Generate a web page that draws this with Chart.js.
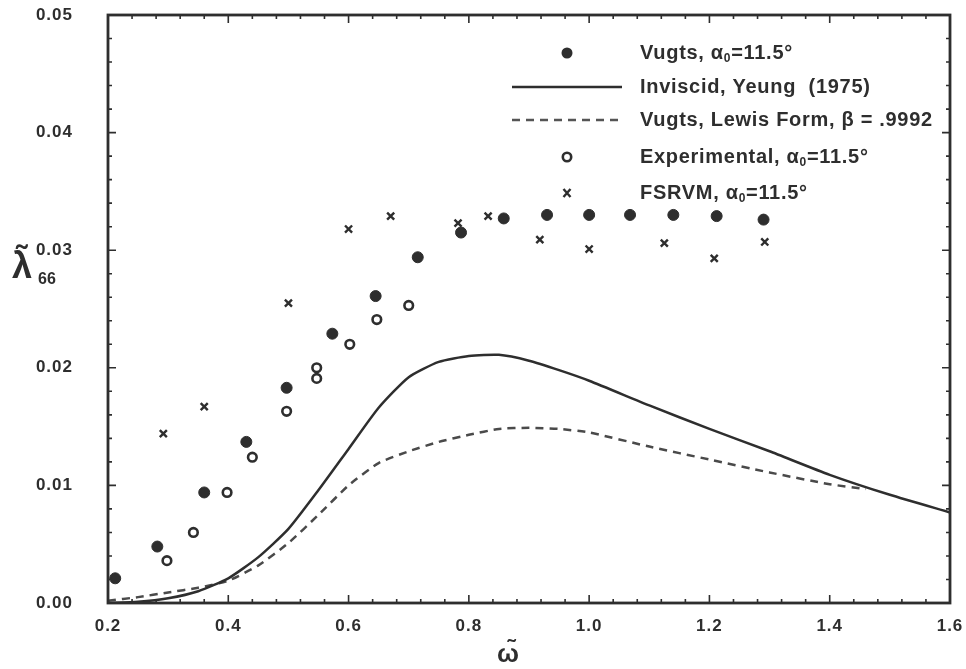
<!DOCTYPE html>
<html>
<head>
<meta charset="utf-8">
<script src="https://cdn.jsdelivr.net/npm/chart.js@4/dist/chart.umd.min.js"></script>
<style>
  html, body { margin: 0; padding: 0; background: #fff; }
  #wrap { width: 966px; height: 669px; position: relative; }
</style>
</head>
<body>
<div id="wrap"><canvas id="c" width="966" height="669"></canvas></div>
<script>
// ── Data ────────────────────────────────────────────────────────────
const omegaVugts  = [0.212, 0.282, 0.36, 0.43, 0.497, 0.573, 0.645, 0.715, 0.787, 0.858, 0.93, 1.0, 1.068, 1.14, 1.212, 1.29];
const lambdaVugts = [0.0021, 0.0048, 0.0094, 0.0137, 0.0183, 0.0229, 0.0261, 0.0294, 0.0315, 0.0327, 0.0330, 0.0330, 0.0330, 0.0330, 0.0329, 0.0326];

const omegaInv  = [0.2, 0.25, 0.3, 0.35, 0.4, 0.45, 0.5, 0.55, 0.6, 0.65, 0.7, 0.75, 0.8, 0.85, 0.9, 0.95, 1.0, 1.1, 1.2, 1.3, 1.4, 1.5, 1.6];
const lambdaInv = [0.0000, 0.0001, 0.0004, 0.0010, 0.0021, 0.0039, 0.0063, 0.0096, 0.0131, 0.0166, 0.0192, 0.0205, 0.0210, 0.0211, 0.0206, 0.0198, 0.0189, 0.0168, 0.0148, 0.0129, 0.0109, 0.0092, 0.0077];

const omegaLewis  = [0.2, 0.25, 0.3, 0.35, 0.4, 0.45, 0.5, 0.55, 0.6, 0.65, 0.7, 0.75, 0.8, 0.85, 0.9, 0.95, 1.0, 1.1, 1.2, 1.3, 1.4, 1.46];
const lambdaLewis = [0.0002, 0.0005, 0.0009, 0.0013, 0.0019, 0.0032, 0.0051, 0.0075, 0.0100, 0.0119, 0.0129, 0.0137, 0.0143, 0.0148, 0.0149, 0.0148, 0.0145, 0.0133, 0.0122, 0.0111, 0.0101, 0.0097];

const omegaExp  = [0.298, 0.342, 0.398, 0.44, 0.497, 0.547, 0.547, 0.602, 0.647, 0.70];
const lambdaExp = [0.0036, 0.0060, 0.0094, 0.0124, 0.0163, 0.0191, 0.0200, 0.0220, 0.0241, 0.0253];

const omegaFs  = [0.292, 0.36, 0.50, 0.60, 0.67, 0.782, 0.832, 0.918, 1.0, 1.125, 1.208, 1.292];
const lambdaFs = [0.0144, 0.0167, 0.0255, 0.0318, 0.0329, 0.0323, 0.0329, 0.0309, 0.0301, 0.0306, 0.0293, 0.0307];

const xTicks = [0.2, 0.4, 0.6, 0.8, 1.0, 1.2, 1.4, 1.6];
const yTicks = [0.00, 0.01, 0.02, 0.03, 0.04, 0.05];

const INK = '#2e2e2e';
const FONT = '"Liberation Sans", Arial, sans-serif';
// target plot box in the 966x669 window
const AREA = { left: 108, top: 15, right: 950, bottom: 603 };

const pts = (xs, ys) => xs.map((x, i) => ({ x, y: ys[i] }));

// the scanned lettering is spaced a little wider than Arial
const spacingPlugin = {
  id: 'spacing',
  beforeDraw(chart) { chart.ctx.letterSpacing = '1px'; }
};

// ── Frame with inward ticks on all four sides ─────────────────────
const framePlugin = {
  id: 'frame',
  afterDatasetsDraw(chart) {
    const { ctx, chartArea: a, scales: { x, y } } = chart;
    ctx.save();
    ctx.strokeStyle = INK;
    ctx.lineWidth = 1.6;
    ctx.beginPath();
    // minor ticks every 1/5 of a major step
    for (let i = 0; i <= 35; i++) {
      const px = x.getPixelForValue(0.2 + i * 0.04);
      const len = i % 5 === 0 ? 8 : 4;
      ctx.moveTo(px, a.bottom); ctx.lineTo(px, a.bottom - len);
      ctx.moveTo(px, a.top);    ctx.lineTo(px, a.top + len);
    }
    for (let i = 0; i <= 25; i++) {
      const py = y.getPixelForValue(i * 0.002);
      const len = i % 5 === 0 ? 8 : 4;
      ctx.moveTo(a.left, py);  ctx.lineTo(a.left + len, py);
      ctx.moveTo(a.right, py); ctx.lineTo(a.right - len, py);
    }
    ctx.stroke();
    ctx.lineWidth = 2.8;
    ctx.strokeRect(a.left, a.top, a.right - a.left, a.bottom - a.top);
    ctx.restore();
  }
};

// text with optional subscript pieces: [[text, isSub], ...]
function drawRich(ctx, parts, x, y, size) {
  let cx = x;
  parts.forEach(([t, sub]) => {
    ctx.font = `bold ${sub ? Math.round(size * 0.6) : size}px ${FONT}`;
    ctx.fillText(t, cx, sub ? y + size * 0.28 : y);
    cx += ctx.measureText(t).width;
  });
}

// ── Legend + axis titles ──────────────────────────────────────────
const legendPlugin = {
  id: 'customLegend',
  afterDraw(chart) {
    const { ctx } = chart;
    ctx.save();
    ctx.fillStyle = INK;
    ctx.strokeStyle = INK;
    ctx.textBaseline = 'middle';
    ctx.letterSpacing = '0.7px';
    const tx = 640, mx = 567, size = 20;

    ctx.beginPath(); ctx.arc(mx, 53, 5.5, 0, Math.PI * 2); ctx.fill();
    drawRich(ctx, [['Vugts, α'], ['0', true], ['=11.5°']], tx, 53, size);

    ctx.lineWidth = 2.4;
    ctx.beginPath(); ctx.moveTo(512, 87); ctx.lineTo(622, 87); ctx.stroke();
    drawRich(ctx, [['Inviscid, Yeung  (1975)']], tx, 87, size);

    ctx.strokeStyle = '#555';
    ctx.setLineDash([8, 6]);
    ctx.beginPath(); ctx.moveTo(512, 120); ctx.lineTo(622, 120); ctx.stroke();
    ctx.setLineDash([]);
    ctx.strokeStyle = INK;
    drawRich(ctx, [['Vugts, Lewis Form, β = .9992']], tx, 120, size);

    ctx.lineWidth = 2.6;
    ctx.beginPath(); ctx.arc(mx, 157, 4.2, 0, Math.PI * 2); ctx.stroke();
    drawRich(ctx, [['Experimental, α'], ['0', true], ['=11.5°']], tx, 157, size);

    ctx.lineWidth = 2.4;
    ctx.beginPath();
    ctx.moveTo(mx - 3.5, 189); ctx.lineTo(mx + 3.5, 197);
    ctx.moveTo(mx + 3.5, 189); ctx.lineTo(mx - 3.5, 197);
    ctx.stroke();
    drawRich(ctx, [['FSRVM, α'], ['0', true], ['=11.5°']], tx, 193, size);

    // axis titles
    ctx.letterSpacing = '0px';
    ctx.textAlign = 'center';
    ctx.font = `bold 26px ${FONT}`;
    ctx.fillText('ω\u0303', 508, 655);
    ctx.textAlign = 'left';
    ctx.font = `bold 36px ${FONT}`;
    ctx.fillText('λ\u0303', 12, 268);
    ctx.font = `bold 16px ${FONT}`;
    ctx.fillText('66', 38, 280);
    ctx.restore();
  }
};

const pad = { left: 0, top: 15, right: 16, bottom: 0 };

const chart = new Chart(document.getElementById('c'), {
  type: 'scatter',
  data: {
    datasets: [
      {
        label: 'Vugts, α0=11.5°',
        data: pts(omegaVugts, lambdaVugts),
        pointStyle: 'circle', pointRadius: 5.5,
        backgroundColor: INK, borderColor: INK, borderWidth: 1
      },
      {
        label: 'Inviscid, Yeung (1975)',
        data: pts(omegaInv, lambdaInv),
        showLine: true, pointRadius: 0, tension: 0.2,
        borderColor: INK, borderWidth: 2.5
      },
      {
        label: 'Vugts, Lewis Form, β = .9992',
        data: pts(omegaLewis, lambdaLewis),
        showLine: true, pointRadius: 0, tension: 0.2,
        borderColor: '#4a4a4a', borderWidth: 2.5, borderDash: [8, 6]
      },
      {
        label: 'Experimental, α0=11.5°',
        data: pts(omegaExp, lambdaExp),
        pointStyle: 'circle', pointRadius: 4.3,
        backgroundColor: '#fff', borderColor: INK, borderWidth: 2.6
      },
      {
        label: 'FSRVM, α0=11.5°',
        data: pts(omegaFs, lambdaFs),
        pointStyle: 'crossRot', pointRadius: 5,
        borderColor: INK, borderWidth: 2.4
      }
    ]
  },
  options: {
    responsive: false,
    animation: false,
    layout: { padding: { ...pad } },
    plugins: { legend: { display: false }, tooltip: { enabled: false } },
    scales: {
      x: {
        type: 'linear', min: 0.2, max: 1.6,
        afterFit: s => { s.height = 66; s.paddingLeft = 0; s.paddingRight = 0; },
        afterBuildTicks: s => { s.ticks = xTicks.map(v => ({ value: v })); },
        grid: { display: false, drawTicks: false },
        border: { display: false },
        ticks: {
          padding: 13, color: INK, maxRotation: 0,
          font: { family: FONT, size: 17, weight: 'bold' },
          callback: v => v.toFixed(1)
        }
      },
      y: {
        type: 'linear', min: 0, max: 0.05,
        afterFit: s => { s.width = 108; s.paddingTop = 0; s.paddingBottom = 0; },
        afterBuildTicks: s => { s.ticks = yTicks.map(v => ({ value: v })); },
        grid: { display: false, drawTicks: false },
        border: { display: false },
        ticks: {
          padding: 35, color: INK,
          font: { family: FONT, size: 17, weight: 'bold' },
          callback: v => v.toFixed(2)
        }
      }
    }
  },
  plugins: [spacingPlugin, framePlugin, legendPlugin]
});

// nudge layout padding so the plot box lands where the reference has it
const a = chart.chartArea;
chart.options.layout.padding = {
  left: pad.left + (AREA.left - a.left),
  top: pad.top + (AREA.top - a.top),
  right: pad.right + (a.right - AREA.right),
  bottom: pad.bottom + (a.bottom - AREA.bottom)
};
chart.update();
</script>
</body>
</html>
